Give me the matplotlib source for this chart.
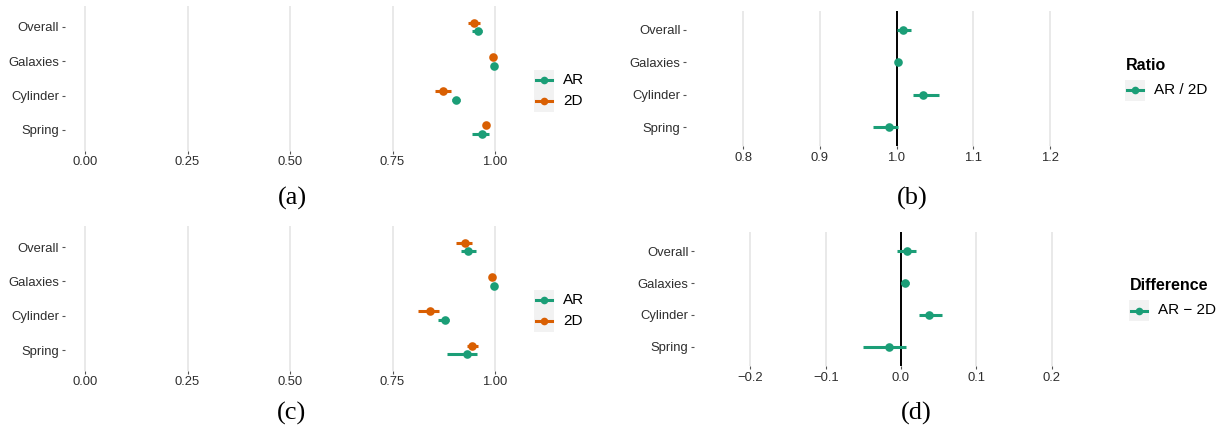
import matplotlib
matplotlib.use("Agg")
import matplotlib.pyplot as plt
from matplotlib.patches import Rectangle
from matplotlib.lines import Line2D

# ---------------- data ----------------
categories = ["Overall", "Galaxies", "Cylinder", "Spring"]

# panel (a)
a_ar = [0.958, 0.998, 0.906, 0.969]
a_ar_lo = [0.945, 0.996, 0.894, 0.945]
a_ar_hi = [0.969, 1.000, 0.914, 0.986]
a_2d = [0.949, 0.996, 0.874, 0.978]
a_2d_lo = [0.933, 0.994, 0.853, 0.975]
a_2d_hi = [0.963, 0.998, 0.892, 0.981]

# panel (c)
c_ar = [0.935, 0.998, 0.879, 0.931]
c_ar_lo = [0.918, 0.996, 0.861, 0.882]
c_ar_hi = [0.953, 1.000, 0.888, 0.955]
c_2d = [0.927, 0.992, 0.842, 0.945]
c_2d_lo = [0.906, 0.990, 0.812, 0.931]
c_2d_hi = [0.944, 0.994, 0.863, 0.959]

# panel (b) ratio AR / 2D
b_ratio = [1.0087, 1.002, 1.0343, 0.9896]
b_lo = [1.000, 1.000, 1.0213, 0.9691]
b_hi = [1.0187, 1.004, 1.0561, 1.002]

# panel (d) difference AR - 2D
d_diff = [0.0084, 0.0049, 0.0366, -0.0159]
d_lo = [-0.0048, 0.0005, 0.0233, -0.0502]
d_hi = [0.0198, 0.0106, 0.055, 0.007]

ab_ticks = [0.0, 0.25, 0.5, 0.75, 1.0]
ab_ticklabels = ["0.00", "0.25", "0.50", "0.75", "1.00"]
b_ticks = [0.8, 0.9, 1.0, 1.1, 1.2]
b_ticklabels = ["0.8", "0.9", "1.0", "1.1", "1.2"]
d_ticks = [-0.2, -0.1, 0.0, 0.1, 0.2]
d_ticklabels = ["\u22120.2", "\u22120.1", "0.0", "0.1", "0.2"]

GREEN = "#1B9E77"
ORANGE = "#D95F02"
GRID = "#E3E3E3"
TXT = "#2E2E2E"
FONT = "Liberation Sans"

W, H = 1222, 437
fig = plt.figure(figsize=(W / 100, H / 100), dpi=100)


def add_ax(left, right, top, bottom):
    return fig.add_axes([left / W, 1 - bottom / H, (right - left) / W, (bottom - top) / H])


def style(ax, xlim, ticks, ticklabels):
    ax.set_xlim(*xlim)
    ax.set_ylim(4.6, 0.4)
    for s in ax.spines.values():
        s.set_visible(False)
    ax.set_xticks(ticks)
    ax.set_xticklabels(ticklabels, fontfamily=FONT, fontsize=9.4, color=TXT)
    ax.set_yticks(range(1, len(categories) + 1))
    ax.set_yticklabels(categories, fontfamily=FONT, fontsize=9.4, color=TXT)
    ax.tick_params(axis="both", length=2.5, width=0.8, color="#555555")
    ax.tick_params(axis="x", pad=1.5)
    ax.tick_params(axis="y", pad=1.5)
    ax.set_facecolor("none")
    for t in ticks:
        ax.axvline(t, color=GRID, lw=1.1, zorder=0)


def pointrange(ax, ys, vals, lo, hi, color):
    for y, v, l, h in zip(ys, vals, lo, hi):
        ax.plot([l, h], [y, y], color=color, lw=2.2, solid_capstyle="butt", zorder=3)
    ax.plot(vals, ys, "o", color=color, markersize=6.2, markeredgewidth=0, zorder=4)


pos = list(range(1, len(categories) + 1))
dodge = 0.13

# (a)
ax_a = add_ax(64.5, 515.5, 6.4, 150.5)
style(ax_a, (-0.05, 1.05), ab_ticks, ab_ticklabels)
pointrange(ax_a, [p + dodge for p in pos], a_ar, a_ar_lo, a_ar_hi, GREEN)
pointrange(ax_a, [p - dodge for p in pos], a_2d, a_2d_lo, a_2d_hi, ORANGE)

# (c)
ax_c = add_ax(64.5, 515.5, 226.4, 370.6)
style(ax_c, (-0.05, 1.05), ab_ticks, ab_ticklabels)
pointrange(ax_c, [p + dodge for p in pos], c_ar, c_ar_lo, c_ar_hi, GREEN)
pointrange(ax_c, [p - dodge for p in pos], c_2d, c_2d_lo, c_2d_hi, ORANGE)

# (b)
ax_b = add_ax(686, 1107, 10.6, 146.4)
style(ax_b, (0.725, 1.275), b_ticks, b_ticklabels)
ax_b.axvline(1.0, color="black", lw=1.4, zorder=2)
pointrange(ax_b, pos, b_ratio, b_lo, b_hi, GREEN)

# (d)
ax_d = add_ax(694, 1108, 231.8, 366.2)
style(ax_d, (-0.275, 0.275), d_ticks, d_ticklabels)
ax_d.axvline(0.0, color="black", lw=1.4, zorder=2)
pointrange(ax_d, pos, d_diff, d_lo, d_hi, GREEN)

# overlay in pixel coordinates for legends and panel labels
ov = fig.add_axes([0, 0, 1, 1])
ov.set_xlim(0, W)
ov.set_ylim(H, 0)
ov.axis("off")
ov.set_zorder(10)
ov.patch.set_visible(False)


def legend(x0, y0, labels, colors, title=None, title_y=None):
    n = len(labels)
    kh = 21
    ov.add_patch(Rectangle((x0, y0), 20, kh * n, facecolor="#F2F2F2", edgecolor="none"))
    for i, (lab, col) in enumerate(zip(labels, colors)):
        yc = y0 + kh * i + kh / 2
        ov.add_line(Line2D([x0 + 2, x0 + 18], [yc, yc], color=col, lw=2.2))
        ov.plot([x0 + 10], [yc], "o", color=col, markersize=5.5, markeredgewidth=0)
        ov.text(x0 + 29, yc, lab, fontfamily=FONT, fontsize=11, color="black",
                va="center", ha="left")
    if title:
        ov.text(x0 + 1, title_y, title, fontfamily=FONT, fontsize=11.5, fontweight="bold",
                color="black", va="center", ha="left")


legend(534, 69.5, ["AR", "2D"], [GREEN, ORANGE])
legend(534, 289.5, ["AR", "2D"], [GREEN, ORANGE])
legend(1125, 79.5, ["AR / 2D"], [GREEN], title="Ratio", title_y=65)
legend(1129, 300, ["AR \u2212 2D"], [GREEN], title="Difference", title_y=285)

for lab, x, y in [("(a)", 292, 198), ("(b)", 912, 198), ("(c)", 292, 413), ("(d)", 916, 413)]:
    ov.text(x, y, lab, fontfamily="Liberation Serif", fontsize=19, color="black",
            ha="center", va="center")

fig.savefig("out.png", dpi=100)
